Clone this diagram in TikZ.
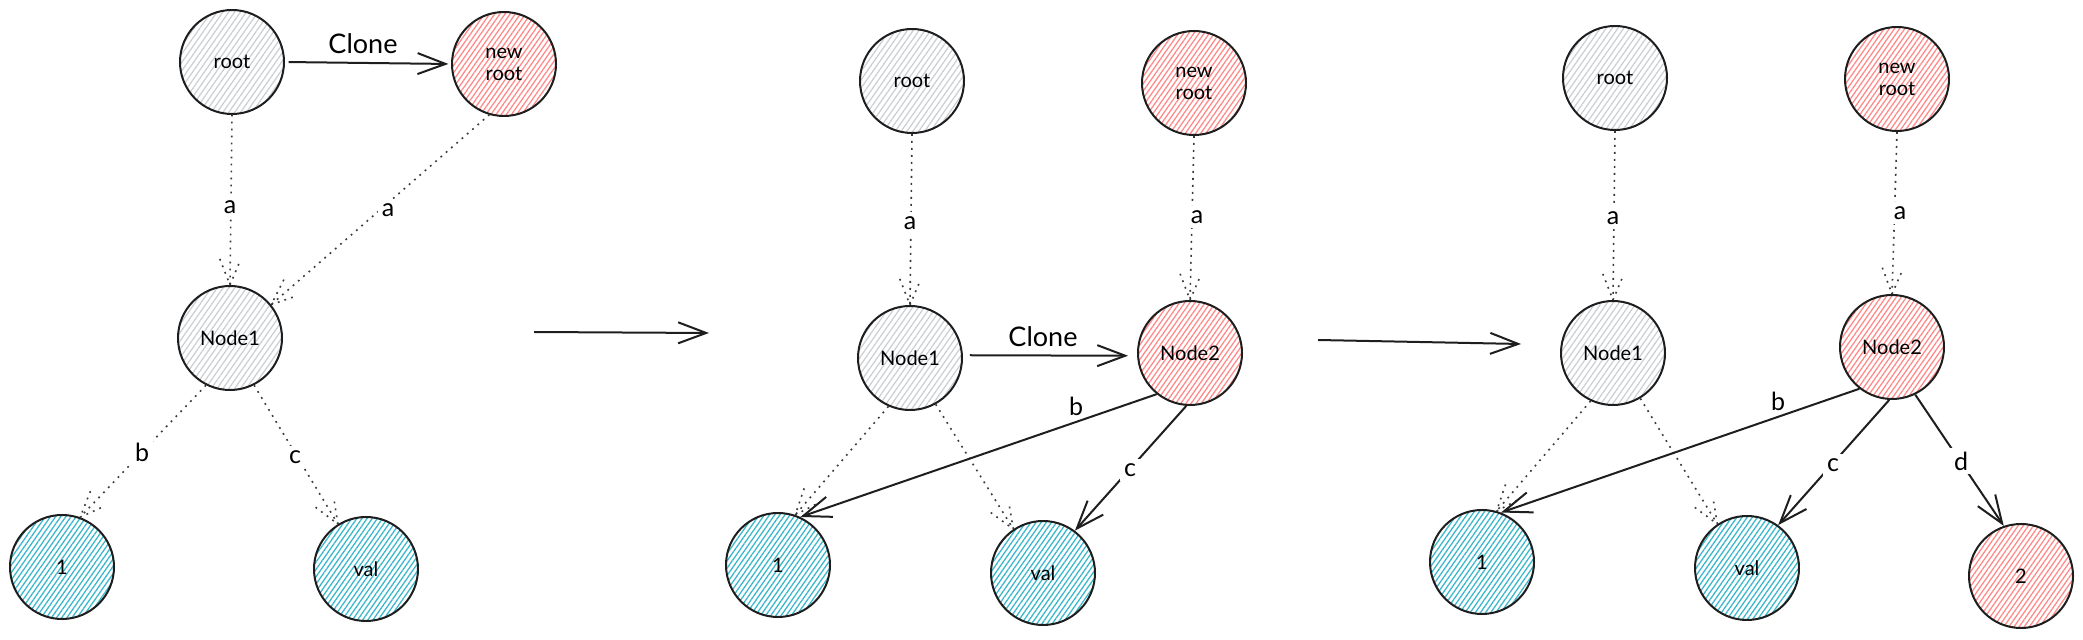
\documentclass[tikz,border=0pt]{standalone}
\usepackage{fontspec}
\setmainfont{Lato}
\usetikzlibrary{arrows.meta,patterns.meta,calc}
\definecolor{ink}{HTML}{1E1E1E}
\definecolor{dotink}{HTML}{3A3A3A}
\definecolor{hgray}{HTML}{C9CED3}
\definecolor{hred}{HTML}{FF8A8A}
\definecolor{hcyan}{HTML}{3BB7CB}
\tikzset{
  circ/.style={circle, draw=ink, line width=1pt, minimum size=52pt, inner sep=0pt,
    font=\fontsize{10}{11}\selectfont, align=center},
  gnode/.style={circ, pattern={Lines[angle=55,distance=2.4pt,line width=0.6pt]}, pattern color=hgray},
  rnode/.style={circ, pattern={Lines[angle=55,distance=2.1pt,line width=0.65pt]}, pattern color=hred},
  cnode/.style={circ, pattern={Lines[angle=55,distance=2.1pt,line width=0.65pt]}, pattern color=hcyan},
  conn/.style={draw=ink, line width=1pt, -{Straight Barb[length=14pt,width=10.5pt]}},
  dotconn/.style={draw=dotink, line width=0.8pt, dash pattern=on 0.9pt off 2.6pt},
  elab/.style={fill=white, inner sep=2pt, font=\fontsize{12.5}{14}\selectfont},
  plab/.style={inner sep=1pt, font=\fontsize{12.5}{14}\selectfont},
  clab/.style={inner sep=1pt, font=\fontsize{13.5}{15}\selectfont},
}
\newcommand\dotarrow[2]{%
  \draw[dotconn] (#1) -- (#2) coordinate[pos=0] (dS) coordinate[pos=1] (dE);
  \draw[dotconn] ($(dE)!14pt!22:(dS)$) -- (dE) -- ($(dE)!14pt!-22:(dS)$);
}
\begin{document}
\begin{tikzpicture}[x=0.5pt,y=-0.5pt]
\useasboundingbox (0,0) rectangle (2083,640);

% ---------- panel 1 ----------
\node[gnode] (r1)  at (232,62)  {root};
\node[rnode] (nr1) at (504,64)  {new\\root};
\node[gnode] (na1) at (230,338) {Node1};
\node[cnode] (o1)  at (62,567)  {1};
\node[cnode] (v1)  at (366,569) {val};

\draw[conn, shorten <=2pt, shorten >=1.5pt] (r1.east) -- (nr1.west);
\node[clab] (cl1) at (363,44) {Clone};
\dotarrow{r1.south}{na1.north}
\dotarrow{nr1.254}{na1.39}
\dotarrow{na1.243}{o1.70}
\dotarrow{na1.297}{v1.122}
\node[elab] (la1) at (230,207) {a};
\node[elab] (la2) at (388,210) {a};
\node[elab] (lb1) at (142,452) {b};
\node[elab] (lc1) at (295,457) {c};

\coordinate (s1) at (534,332);
\coordinate (e1) at (709,333);
\draw[conn] (s1) -- (e1);

% ---------- panel 2 ----------
\node[gnode] (r2)  at (912,81)   {root};
\node[rnode] (nr2) at (1194,83)  {new\\root};
\node[gnode] (na2) at (910,358)  {Node1};
\node[rnode] (nb2) at (1190,353) {Node2};
\node[cnode] (o2)  at (778,565)  {1};
\node[cnode] (v2)  at (1043,573) {val};

\dotarrow{r2.south}{na2.north}
\dotarrow{nr2.south}{nb2.north}
\dotarrow{na2.246}{o2.71}
\dotarrow{na2.299}{v2.124}
\draw[conn, shorten <=3.5pt, shorten >=4.5pt] (na2.3) -- (nb2.183);
\node[clab] (cl2) at (1043,337) {Clone};
\draw[conn] (nb2.231) -- (o2.65);
\draw[conn] (nb2.266) -- (v2.53);
\node[elab] (la3) at (910,223) {a};
\node[elab] (la4) at (1197,217) {a};
\node[plab] (lb2) at (1076,406) {b};
\node[elab] (lc2) at (1130,470) {c};

\coordinate (s2) at (1318,340);
\coordinate (e2) at (1521,344);
\draw[conn] (s2) -- (e2);

% ---------- panel 3 ----------
\node[gnode] (r3)  at (1615,78)  {root};
\node[rnode] (nr3) at (1897,79)  {new\\root};
\node[gnode] (na3) at (1613,353) {Node1};
\node[rnode] (nb3) at (1892,347) {Node2};
\node[cnode] (o3)  at (1482,562) {1};
\node[cnode] (v3)  at (1747,568) {val};
\node[rnode] (t3)  at (2021,576) {2};

\dotarrow{r3.south}{na3.north}
\dotarrow{nr3.south}{nb3.north}
\dotarrow{na3.245}{o3.74}
\dotarrow{na3.301}{v3.124}
\draw[conn] (nb3.232) -- (o3.69);
\draw[conn] (nb3.267) -- (v3.54);
\draw[conn] (nb3.296) -- (t3.109);
\node[elab] (la5) at (1613,218) {a};
\node[elab] (la6) at (1900,213) {a};
\node[plab] (lb3) at (1778,401) {b};
\node[elab] (lc3) at (1833,465) {c};
\node[elab] (ld3) at (1961,461) {d};
\end{tikzpicture}
\end{document}
